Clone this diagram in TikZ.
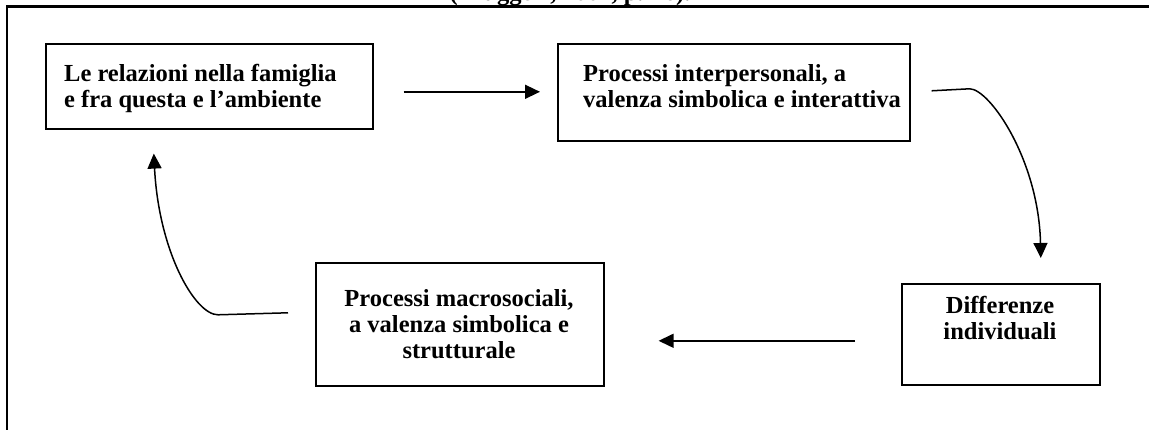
\documentclass[tikz,border=0pt]{standalone}
\usepackage{fontspec}
\setmainfont{Liberation Serif}
\usetikzlibrary{arrows.meta}
\begin{document}
\begin{tikzpicture}[x=1pt,y=-1pt,
  box/.style={draw, line width=1.6pt, inner sep=0pt, anchor=north west},
  txt/.style={font=\fontsize{24.5}{26.5}\selectfont\bfseries, inner sep=0pt},
  link/.style={line width=1.5pt, -{Triangle[length=15pt,width=14pt]}}]
\useasboundingbox (0,0) rectangle (1149,430);
% page frame and the caption above it
\draw[line width=2.4pt] (6.7,430) -- (6.7,6.7) -- (1149,6.7);
\node[txt, anchor=base] (cap) at (570,0.5) {(Fruggeri, 2007, p. 26).};
% boxes
\node[box, minimum width=327pt, minimum height=85pt] (b1) at (45,43) {};
\node[box, minimum width=352pt, minimum height=97pt] (b2) at (557,43) {};
\node[box, minimum width=198pt, minimum height=101pt] (b3) at (901,283) {};
\node[box, minimum width=288pt, minimum height=123pt] (b4) at (315,262) {};
% box texts
\node[txt, anchor=base west] (t1a) at (64,82) {Le relazioni nella famiglia};
\node[txt, anchor=base west] (t1b) at (64,108) {e fra questa e l’ambiente};
\node[txt, anchor=base west] (t2a) at (583,82) {Processi interpersonali, a};
\node[txt, anchor=base west] (t2b) at (583,108) {valenza simbolica e interattiva};
\node[txt, anchor=base] (t3a) at (1000,314) {Differenze};
\node[txt, anchor=base] (t3b) at (1000,340) {individuali};
\node[txt, anchor=base] (t4a) at (459,307) {Processi macrosociali,};
\node[txt, anchor=base] (t4b) at (459,333) {a valenza simbolica e};
\node[txt, anchor=base] (t4c) at (459,359) {strutturale};
% connectors
\draw[link, shorten >=17pt] ([shift={(30pt,-5.5pt)}]b1.east) coordinate (a1s) -- (a1s -| b2.west);
\draw[link] ([shift={(21pt,1.5pt)}]b2.east) -- ++(38,-2)
  .. controls +(20,0) and +(-2,-98) .. ([shift={(40pt,25pt)}]b3.north);
\draw[link, shorten >=54pt] ([shift={(-46pt,-6.5pt)}]b3.west) coordinate (a3s) -- (a3s -| b4.east);
\draw[link] ([shift={(-27pt,11.5pt)}]b4.west) -- ++(-70,2)
  .. controls +(-23,0) and +(5,98) .. ([shift={(-55.5pt,-24pt)}]b1.south);
\end{tikzpicture}
\end{document}
